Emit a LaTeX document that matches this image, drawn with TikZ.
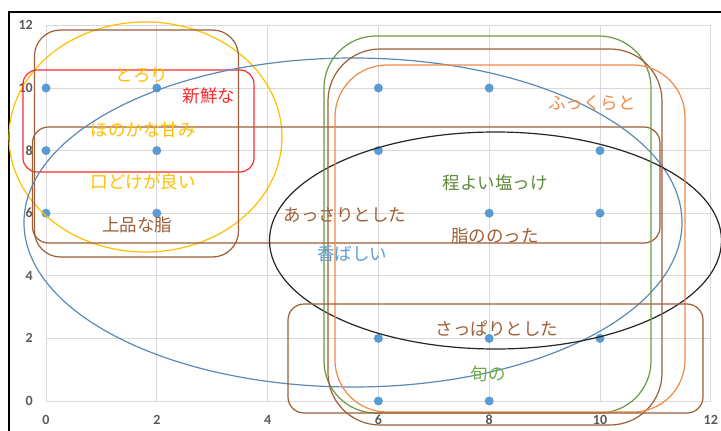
\documentclass[tikz,border=0pt]{standalone}
\usepackage{fontspec}
\setmainfont{Carlito}
\newfontfamily\jp{Noto Sans CJK JP}
\definecolor{gridc}{HTML}{D9D9D9}
\definecolor{axc}{HTML}{595959}
\definecolor{dotc}{HTML}{5B9BD5}
\definecolor{goldc}{HTML}{FFC000}
\definecolor{redc}{HTML}{FF2A2A}
\definecolor{brownc}{HTML}{9E5F38}
\definecolor{bluec}{HTML}{5A89B8}
\definecolor{greenc}{HTML}{6A9A3F}
\definecolor{orangec}{HTML}{F08A45}
\definecolor{gtext}{HTML}{5E8A3A}
\definecolor{ltgreen}{HTML}{70AD47}
\tikzset{
  gridline/.style={gridc, line width=1pt},
  axlabel/.style={text=axc, font=\bfseries\fontsize{14}{14}\selectfont, inner sep=0pt},
  datadot/.style={circle, fill=dotc, minimum size=9pt, inner sep=0pt},
  shapeline/.style={line width=1.2pt},
  jlabel/.style={font=\jp\fontsize{17.5}{17.5}\selectfont, inner sep=0pt}
}
\begin{document}
\begin{tikzpicture}[x=1pt,y=-1pt]
\useasboundingbox (0,0) rectangle (721,431);
\fill[white] (0,0) rectangle (721,431);
% frame
\draw[black, line width=2.4pt] (9,433) -- (9,12) -- (723,12);
% grid
\foreach \i in {0,...,6} {
  \draw[gridline] ({46+110.8*\i},25.4) -- ({46+110.8*\i},401);
  \draw[gridline] (46,{401-62.6*\i}) -- (710.8,{401-62.6*\i});
}
% axis labels
\foreach \v [count=\k from 0] in {0,2,4,6,8,10,12} {
  \node[axlabel] (xl\k) at ({46+110.8*\k},420) {\v};
  \node[axlabel, anchor=east] (yl\k) at (33,{401-62.6*\k}) {\v};
}
% data dots
\foreach \px/\py [count=\n] in {0/10,2/10,0/8,2/8,0/6,2/6,6/10,8/10,6/8,10/8,8/6,10/6,6/2,8/2,10/2,6/0,8/0} {
  \node[datadot] (d\n) at ({46+55.4*\px},{401-31.3*\py}) {};
}
% shapes
\draw[shapeline, goldc] (145.5,137) ellipse [x radius=136.5, y radius=115];
\draw[shapeline, redc, rounded corners=14pt] (23,70) rectangle (254,172);
\draw[shapeline, brownc, rounded corners=26pt] (34.5,30) rectangle (238.5,257);
\draw[shapeline, brownc, rounded corners=16pt] (32.5,127) rectangle (660,243);
\draw[shapeline, bluec] (353,222.5) ellipse [x radius=329, y radius=164.5];
\draw[shapeline, black!85] (495.5,240.5) ellipse [x radius=226, y radius=108.5];
\draw[shapeline, greenc, rounded corners=52pt] (324,36) rectangle (651,413);
\draw[shapeline, brownc, rounded corners=52pt] (328,49) rectangle (662,425);
\draw[shapeline, orangec, rounded corners=52pt] (335,65) rectangle (685,412);
\draw[shapeline, brownc, rounded corners=16pt] (288,304) rectangle (703,413);
% labels
\node[jlabel, text=goldc] (toro) at (142,75) {とろり};
\node[jlabel, text=redc] (shin) at (209,96) {新鮮な};
\node[jlabel, text=goldc] (hono) at (143,130) {ほのかな甘み};
\node[jlabel, text=goldc] (kuch) at (143,182) {口どけが良い};
\node[jlabel, text=brownc] (joh) at (137,225) {上品な脂};
\node[jlabel, text=brownc] (assa) at (345,215) {あっさりとした};
\node[jlabel, text=dotc] (koba) at (352,254) {香ばしい};
\node[jlabel, text=gtext] (hodo) at (495,183) {程よい塩っけ};
\node[jlabel, text=orangec] (fuku) at (592,103) {ふっくらと};
\node[jlabel, text=brownc] (abura) at (495,236) {脂ののった};
\node[jlabel, text=brownc] (sappa) at (497,329) {さっぱりとした};
\node[jlabel, text=ltgreen] (shun) at (488,374) {旬の};
\end{tikzpicture}
\end{document}
